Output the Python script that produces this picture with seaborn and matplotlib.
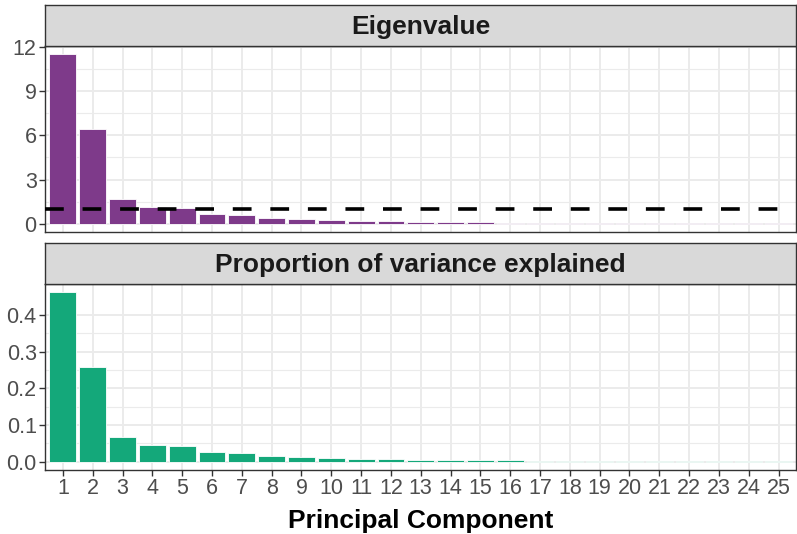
import matplotlib
matplotlib.use("Agg")
import matplotlib.pyplot as plt
import seaborn as sns
import pandas as pd
import numpy as np

components = [str(i) for i in range(1, 26)]
eigenvalues = [11.52, 6.43, 1.68, 1.16, 1.07, 0.66, 0.59, 0.39, 0.32, 0.23,
               0.18, 0.14, 0.12, 0.10, 0.08, 0.07, 0.06, 0.05, 0.04, 0.03,
               0.025, 0.02, 0.015, 0.01, 0.005]
proportions = [0.461, 0.257, 0.067, 0.046, 0.043, 0.026, 0.024, 0.016, 0.013, 0.009,
               0.007, 0.006, 0.005, 0.004, 0.003, 0.003, 0.002, 0.002, 0.002, 0.001,
               0.001, 0.001, 0.001, 0.0005, 0.0002]
eigen_ticks = [0, 3, 6, 9, 12]
prop_ticks = [0.0, 0.1, 0.2, 0.3, 0.4]
strip_titles = ["Eigenvalue", "Proportion of variance explained"]
xlabel = "Principal Component"
threshold = 1

purple = "#7E3A8A"
green = "#14A87A"
grey20 = "#333333"
grey30 = "#4D4D4D"
gridc = "#EBEBEB"

sns.set_theme(style="white")
plt.rcParams["font.family"] = ["Liberation Sans", "DejaVu Sans"]

W, H = 797, 534
fig = plt.figure(figsize=(W / 100, H / 100), dpi=100)

left = 45 / W
width = (796.5 - 45) / W

def fy(y):
    return 1 - y / H

panels = [(46, 232, 5), (284, 470, 243)]
axes = []
for (ptop, pbot, stop) in panels:
    ax = fig.add_axes([left, fy(pbot), width, (pbot - ptop) / H])
    sax = fig.add_axes([left, fy(ptop), width, (ptop - stop) / H])
    axes.append((ax, sax))

df = pd.DataFrame({"PC": components, "Eigenvalue": eigenvalues, "Proportion": proportions})

def style_panel(ax, vals, ticks, show_x):
    vmax = max(vals)
    ax.set_ylim(-0.05 * vmax, 1.05 * vmax)
    ax.set_xlim(-0.6, 24.6)
    ax.set_yticks(ticks)
    minor = [(ticks[i] + ticks[i + 1]) / 2 for i in range(len(ticks) - 1)]
    ax.set_yticks(minor, minor=True)
    ax.set_axisbelow(True)
    ax.grid(True, which="major", axis="both", color=gridc, lw=1.4)
    ax.grid(True, which="minor", axis="y", color=gridc, lw=0.8)
    for sp in ax.spines.values():
        sp.set_visible(True)
        sp.set_color(grey20)
        sp.set_linewidth(1.0)
    ax.tick_params(axis="y", which="major", left=True, length=4, width=1, color=grey20,
                   labelsize=15.5, labelcolor=grey30, pad=2)
    ax.tick_params(axis="y", which="minor", left=False)
    if show_x:
        ax.tick_params(axis="x", bottom=True, length=4, width=1, color=grey20,
                       labelsize=15.5, labelcolor=grey30, pad=2)
    else:
        ax.tick_params(axis="x", bottom=False, labelbottom=False)
    ax.set_ylabel("")

def style_strip(sax, title):
    sax.set_facecolor("#D9D9D9")
    sax.set_xticks([])
    sax.set_yticks([])
    for sp in sax.spines.values():
        sp.set_visible(True)
        sp.set_color(grey20)
        sp.set_linewidth(1.0)
    sax.text(0.5, 0.47, title, transform=sax.transAxes, ha="center", va="center",
             fontsize=19, fontweight="bold", color="#1A1A1A")

ax1, s1 = axes[0]
sns.barplot(data=df, x="PC", y="Eigenvalue", order=components, color=purple,
            width=0.9, edgecolor="white", linewidth=0.6, saturation=1, ax=ax1)
ax1.axhline(threshold, color="black", lw=2.6, dashes=(5.2, 5.2), zorder=5)
style_panel(ax1, eigenvalues, eigen_ticks, False)
ax1.set_xlabel("")
ax1.set_yticklabels([str(t) for t in eigen_ticks])
style_strip(s1, strip_titles[0])

ax2, s2 = axes[1]
sns.barplot(data=df, x="PC", y="Proportion", order=components, color=green,
            width=0.9, edgecolor="white", linewidth=0.6, saturation=1, ax=ax2)
style_panel(ax2, proportions, prop_ticks, True)
ax2.set_yticklabels([f"{t:.1f}" for t in prop_ticks])
ax2.set_xlabel(xlabel, fontsize=19, fontweight="bold", color="black", labelpad=7)
style_strip(s2, strip_titles[1])

fig.savefig("out.png", dpi=100)
